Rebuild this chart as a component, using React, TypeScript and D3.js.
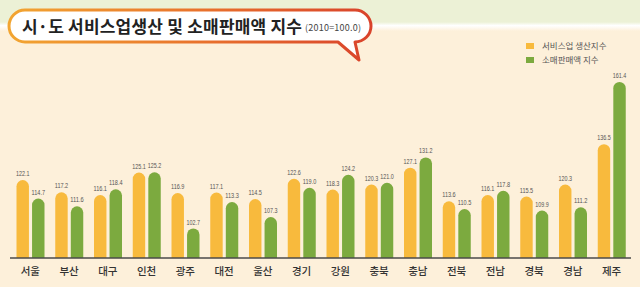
import * as d3 from 'd3';
import { useMemo } from 'react';

const regions = ['서울', '부산', '대구', '인천', '광주', '대전', '울산', '경기', '강원', '충북', '충남', '전북', '전남', '경북', '경남', '제주'];
const serviceIndex = [122.1, 117.2, 116.1, 125.1, 116.9, 117.1, 114.5, 122.6, 118.3, 120.3, 127.1, 113.6, 116.1, 115.5, 120.3, 136.5];
const retailIndex = [114.7, 111.6, 118.4, 125.2, 102.7, 113.3, 107.3, 119.0, 124.2, 121.0, 131.2, 110.5, 117.8, 109.9, 111.2, 161.4];
const seriesKeys = ['service', 'retail'];
const seriesNames = ['서비스업 생산지수', '소매판매액 지수'];
const seriesColors = ['#F8BA3D', '#7CAA3F'];

const TITLE = '시·도 서비스업생산 및 소매판매액 지수';
const SUBTITLE = '(2010=100.0)';

const width = 640,
    height = 287;
const BASE_Y = 258;
const KR_FONT = '"Noto Sans CJK KR", "Noto Sans", sans-serif';

// rounded-top bar
function barPath(x: number, y: number, w: number, base: number) {
    const r = w / 2;
    const top = Math.min(y + r, base);
    return `M${x},${base}L${x},${top}A${r},${r} 0 0 1 ${x + w},${top}L${x + w},${base}Z`;
}

export default function App() {
    const xScale = useMemo(() => d3.scaleBand().domain(regions).range([11, 631]), []);
    const innerScale = useMemo(
        () => d3.scaleBand().domain(seriesKeys).range([5.5, 33.5]).paddingInner(0.2),
        []
    );
    const yScale = useMemo(() => d3.scaleLinear().domain([90.9, 161.4]).range([BASE_Y, 82]), []);

    const data = regions.map((r, i) => ({ region: r, values: [serviceIndex[i], retailIndex[i]] }));
    const bw = innerScale.bandwidth();

    return (
        <svg width={width} height={height} style={{ position: 'absolute', left: 0, top: 0 }}>
            <defs>
                <linearGradient id="bubbleStroke" gradientUnits="userSpaceOnUse" x1={9} x2={371} y1={0} y2={0}>
                    <stop offset="0%" stopColor="#F2A531" />
                    <stop offset="55%" stopColor="#E8702C" />
                    <stop offset="100%" stopColor="#D9432B" />
                </linearGradient>
                <linearGradient id="stripe" x1="0" x2="0" y1="0" y2="1">
                    <stop offset="0%" stopColor="#ECF1D6" />
                    <stop offset="40%" stopColor="#FFFFFF" />
                    <stop offset="100%" stopColor="#FDF0DA" />
                </linearGradient>
            </defs>
            <rect width={width} height={height} fill="#FDF0DA" />
            <rect width={width} height={24} fill="#ECF1D6" />
            <rect y={22} width={width} height={9} fill="url(#stripe)" />

            {/* title bubble */}
            <path
                d="M25,10H355A16,16 0 0 1 355,42L355,42L359,60L338,42H25A16,16 0 0 1 25,10Z"
                fill="#FFFFFF"
                stroke="url(#bubbleStroke)"
                strokeWidth={3}
                strokeLinejoin="round"
            />
            <text x={22} y={33} fontFamily={KR_FONT} fontWeight={700} fontSize={17} fill="#222" textLength={280}>
                {TITLE}
            </text>
            <text x={305} y={31} fontFamily={KR_FONT} fontSize={9} fill="#444" textLength={56}>
                {SUBTITLE}
            </text>

            {/* legend */}
            {seriesNames.map((name, i) => (
                <g key={name} transform={`translate(526,${43 + i * 14})`}>
                    <rect width={8} height={6} fill={seriesColors[i]} />
                    <text x={16} y={6} fontFamily={KR_FONT} fontSize={8.5} fill="#555">
                        {name}
                    </text>
                </g>
            ))}

            {/* bars */}
            {data.map((d) => (
                <g key={d.region} transform={`translate(${xScale(d.region)},0)`}>
                    {d.values.map((v, j) => {
                        const x = innerScale(seriesKeys[j]) ?? 0;
                        const y = yScale(v);
                        return (
                            <g key={seriesKeys[j]}>
                                <path d={barPath(x, y, bw, BASE_Y)} fill={seriesColors[j]} />
                                <text
                                    x={x + bw / 2}
                                    y={y - 4}
                                    textAnchor="middle"
                                    fontFamily='"Liberation Sans", sans-serif'
                                    fontSize={8}
                                    fill="#555"
                                    textLength={13.5}
                                    lengthAdjust="spacingAndGlyphs"
                                >
                                    {v.toFixed(1)}
                                </text>
                            </g>
                        );
                    })}
                    <text
                        x={xScale.bandwidth() / 2}
                        y={275}
                        textAnchor="middle"
                        fontFamily={KR_FONT}
                        fontSize={10.5}
                        fontWeight={500}
                        fill="#333"
                    >
                        {d.region}
                    </text>
                </g>
            ))}

            <line x1={10} x2={631} y1={BASE_Y} y2={BASE_Y} stroke="#4a4a4a" strokeWidth={1.5} />
        </svg>
    );
}
